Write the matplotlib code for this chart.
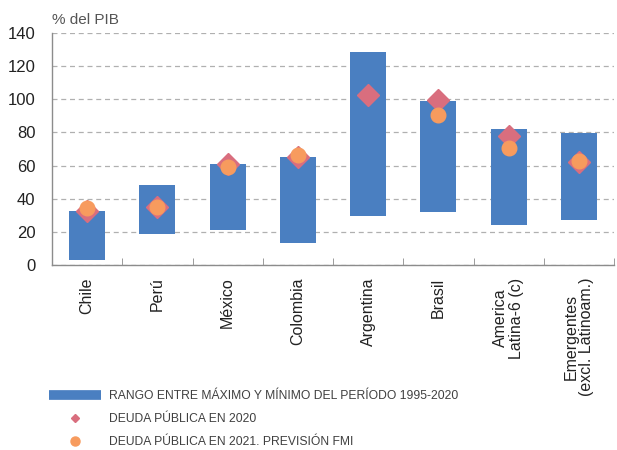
import numpy as np
import matplotlib.pyplot as plt
from matplotlib.lines import Line2D

# deuda pública, % del PIB
paises = ['Chile', 'Perú', 'México', 'Colombia', 'Argentina', 'Brasil',
          'America\nLatina-6 (c)', 'Emergentes\n(excl. Latinoam.)']
rango_min = [3, 19, 21, 13, 29.6, 32.2, 24.1, 27.2]
rango_max = [32.6, 48.3, 61, 65.2, 128.5, 99, 82.1, 79.8]
deuda_2020 = [32.5, 35.2, 61, 65.4, 102.6, 99.6, 77.9, 62]
deuda_2021 = [34.2, 35, 59.3, 66.4, np.nan, 90.3, 70.8, 63]

AZUL = '#4a7fc1'
ROSA = '#d96e7e'
NARANJA = '#f79b5e'
GRIS = '#8c8c8c'

plt.rcParams['font.family'] = ['Liberation Sans', 'DejaVu Sans']

fig = plt.figure(figsize=(6.17, 4.5), dpi=100)
ax = fig.add_axes([52 / 617, 185 / 450, 562 / 617, 232 / 450])

x = np.arange(len(paises))
alto = np.array(rango_max) - np.array(rango_min)
ax.bar(x, alto, bottom=rango_min, width=0.51, color=AZUL, zorder=2)
ax.plot(x, deuda_2020, 'D', color=ROSA, markersize=11.5, zorder=3)
ax.plot(x, deuda_2021, 'o', color=NARANJA, markersize=10.5, zorder=4)

ax.set_xlim(-0.5, 7.5)
ax.set_ylim(0, 140)
ax.set_yticks(range(0, 141, 20))
ax.tick_params(axis='y', length=0, labelsize=12, pad=12, labelcolor='#222222')

ax.set_xticks(x)
ax.set_xticklabels(paises, rotation=90, fontsize=11.5, va='top', ha='center',
                   color='#222222', linespacing=1.1)
ax.set_xticks(np.arange(0.5, 8, 1), minor=True)
ax.tick_params(axis='x', which='major', length=0, pad=9)
ax.tick_params(axis='x', which='minor', direction='in', length=5, color=GRIS)

ax.grid(axis='y', color='#b0b0b0', linestyle=(0, (4, 3)), linewidth=0.9, zorder=0)
for lado in ['top', 'right']:
    ax.spines[lado].set_visible(False)
for lado in ['left', 'bottom']:
    ax.spines[lado].set_color(GRIS)
    ax.spines[lado].set_linewidth(1.0)

fig.text(52 / 617, 1 - 20 / 450, '% del PIB', fontsize=11, color='#555555',
         va='center', ha='left')

handles = [Line2D([], [], color=AZUL, linewidth=7, solid_capstyle='butt'),
           Line2D([], [], marker='D', color=ROSA, linestyle='none', markersize=4.5),
           Line2D([], [], marker='o', color=NARANJA, linestyle='none', markersize=6.5)]
etiquetas = ['RANGO ENTRE MÁXIMO Y MÍNIMO DEL PERÍODO 1995-2020',
             'DEUDA PÚBLICA EN 2020',
             'DEUDA PÚBLICA EN 2021. PREVISIÓN FMI']
leg = fig.legend(handles, etiquetas, loc='upper left',
                 bbox_to_anchor=(49 / 617, 1 - 390 / 450), frameon=False,
                 fontsize=8.75, handlelength=4.3, handletextpad=0.65,
                 labelspacing=0.92, borderaxespad=0, borderpad=0)
for t in leg.get_texts():
    t.set_color('#404040')

fig.savefig('out.png', dpi=100)
